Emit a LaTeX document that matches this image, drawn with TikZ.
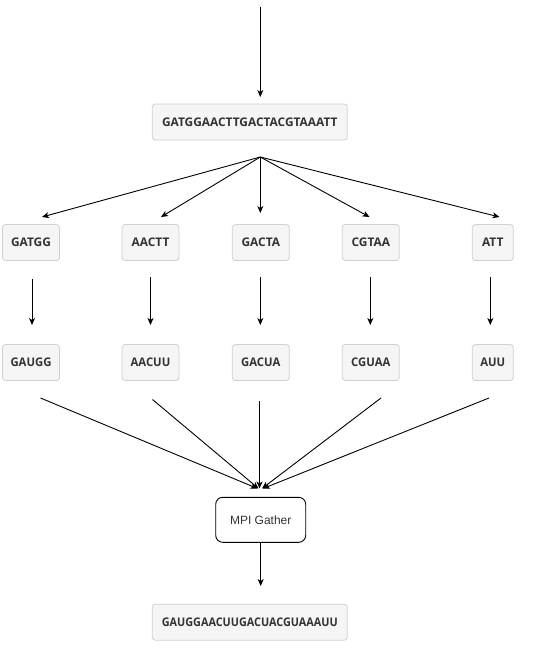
\documentclass[tikz,border=0pt]{standalone}
\usepackage{fontspec}
\setmainfont{Open Sans}
\newfontfamily\gatherfont{Liberation Sans}
\usetikzlibrary{arrows.meta}
\definecolor{boxfill}{HTML}{F5F5F5}
\definecolor{boxline}{HTML}{D0D0D0}
\definecolor{txt}{HTML}{333333}
\tikzset{
  seqbox/.style={draw=boxline, fill=boxfill, rounded corners=3pt, line width=0.8pt,
    minimum height=36pt, inner sep=0pt, text=txt,
    font=\fontsize{11.9}{14}\selectfont\bfseries},
  gatherbox/.style={draw=black, fill=white, rounded corners=7pt, line width=0.9pt,
    minimum width=90pt, minimum height=45pt, inner sep=0pt, text=txt,
    font=\gatherfont\fontsize{12}{14}\selectfont},
  arr/.style={draw=black, line width=0.9pt, -{Stealth[length=7pt,width=6pt,inset=2pt]}},
}
\begin{document}
\begin{tikzpicture}[x=1pt,y=-1pt]
\useasboundingbox (0,0) rectangle (541,658);
% nodes
\node[seqbox, minimum width=195pt] (dna) at (249.8,122) {GATGGAACTTGACTACGTAAATT};
\node[seqbox, minimum width=57pt] (c1) at (31,242.5) {GATGG};
\node[seqbox, minimum width=57pt] (c2) at (150.5,242.5) {AACTT};
\node[seqbox, minimum width=57pt] (c3) at (260.8,242.5) {GACTA};
\node[seqbox, minimum width=57pt] (c4) at (370.8,242.5) {CGTAA};
\node[seqbox, minimum width=41pt] (c5) at (492.8,242.5) {ATT};
\node[seqbox, minimum width=57pt] (r1) at (31,362.5) {\scalebox{0.95}[1]{GAUGG}};
\node[seqbox, minimum width=57pt] (r2) at (150.5,362.5) {\scalebox{0.95}[1]{AACUU}};
\node[seqbox, minimum width=57pt] (r3) at (260.8,362.5) {\scalebox{0.95}[1]{GACUA}};
\node[seqbox, minimum width=57pt] (r4) at (370.8,362.5) {\scalebox{0.95}[1]{CGUAA}};
\node[seqbox, minimum width=41pt] (r5) at (492.8,362.5) {\scalebox{0.95}[1]{AUU}};
\node[gatherbox] (mpi) at (260.7,519.8) {MPI Gather};
\node[seqbox, minimum width=195pt] (rna) at (249.8,622.2) {\scalebox{0.91}[1]{GAUGGAACUUGACUACGUAAAUU}};
% free ends
\coordinate (in) at (260.3,7);
\coordinate (inE) at (260.3,97);
\coordinate (fan) at (260.3,157);
\coordinate (t1) at (42,217);
\coordinate (t2) at (161,217);
\coordinate (t3) at (260.3,213);
\coordinate (t4) at (369.5,217);
\coordinate (t5) at (499.5,217);
\foreach \i/\x/\y in {1/32/279,2/150.5/277,3/260.3/277,4/370.3/277,5/490.3/277}{
  \coordinate (v\i) at (\x,\y);
  \coordinate (w\i) at (\x,325);
}
\coordinate (b1) at (40.5,398);
\coordinate (b2) at (152.5,399.5);
\coordinate (b3) at (259.5,401);
\coordinate (b4) at (381,398);
\coordinate (b5) at (489,398);
\coordinate (g1) at (257.5,488.5);
\coordinate (g2) at (258.5,488.5);
\coordinate (g3) at (259.5,488.5);
\coordinate (g4) at (262,488.5);
\coordinate (g5) at (263,488.5);
\coordinate (outE) at (260.7,586);
% connectors
\draw[arr] (in) -- (inE);
\foreach \i in {1,...,5}{
  \draw[arr] (fan) -- (t\i);
  \draw[arr] (v\i) -- (w\i);
  \draw[arr] (b\i) -- (g\i);
}
\draw[arr] (mpi.south) -- (outE);
\end{tikzpicture}
\end{document}
